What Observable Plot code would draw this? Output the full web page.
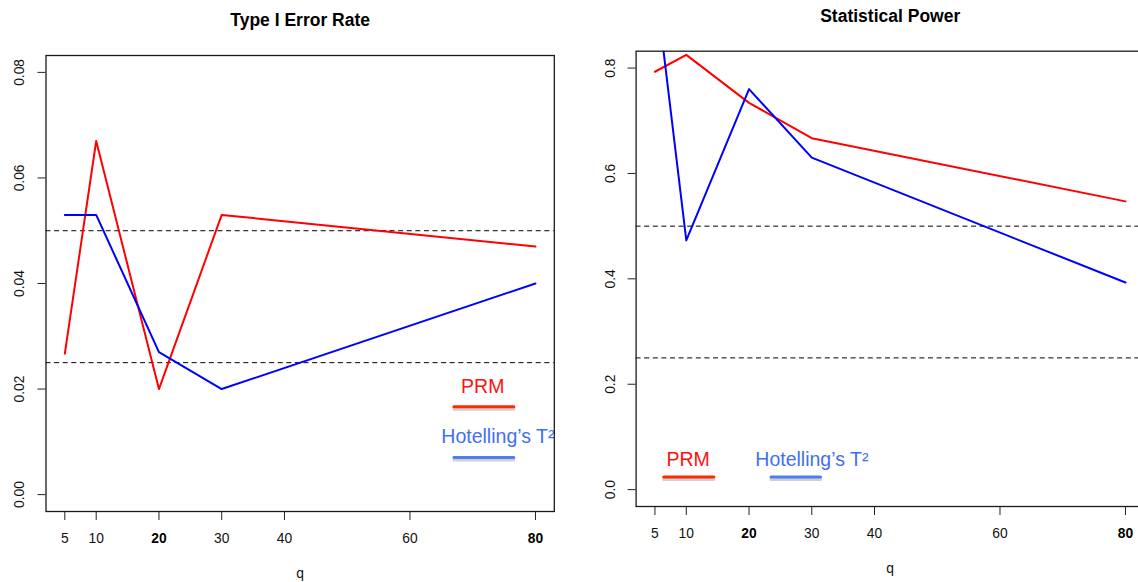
<!DOCTYPE html>
<html><head><meta charset="utf-8">
<script src="https://cdn.jsdelivr.net/npm/d3@7"></script>
<script src="https://cdn.jsdelivr.net/npm/@observablehq/plot@0.6"></script>
<style>
html,body{margin:0;padding:0;background:#fff;overflow:hidden;}
#wrap{position:relative;width:1138px;height:582px;overflow:hidden;background:#fff;}
#left,#right{position:absolute;top:0;height:582px;}
#left{left:0px;width:569px}
#right{left:570px;width:580px}
#wrap svg{max-width:none !important;}
</style></head>
<body><div id="wrap"><div id="left"></div><div id="right"></div></div>
<script>
// ---- data ----
const q = [5, 10, 20, 30, 80];
const typeI_PRM = [0.0267, 0.067, 0.020, 0.053, 0.047];
const typeI_T2  = [0.053, 0.053, 0.027, 0.020, 0.040];
const power_PRM = [0.793, 0.825, 0.734, 0.667, 0.547];
const power_T2  = [0.968, 0.473, 0.760, 0.630, 0.393];
const xTicksNormal = [5, 10, 30, 40, 60];
const xTicksBold = [20, 80];
const typeI_yTicks = [0, 0.02, 0.04, 0.06, 0.08];
const power_yTicks = [0, 0.2, 0.4, 0.6, 0.8];
const typeI_refs = [0.05, 0.025];
const power_refs = [0.5, 0.25];
const seriesNames = ["PRM", "Hotelling’s T²"];

// legend annotation placement (data units)
const typeI_legend = {textX: [71.6, 65.0], textY: [0.0205, 0.0110], lineX: [67.0, 76.55], lineY: [0.01666, 0.00703]};
const power_legend = {textX: [10.3, 21.0], textY: [0.0575, 0.0575], lineX: [[6.4, 14.4], [23.5, 31.4]], lineY: [0.0241, 0.0241]};

const FONT = "'Liberation Sans', Arial, Helvetica, sans-serif";
const FS = 13.8;
const RED = "#ff0000", BLUE = "#0000ff";
const LEG_RED_TEXT = "#ff1010", LEG_RED_LINE = "#ff2a00", LEG_BLUE_TEXT = "#3f6ff5", LEG_BLUE_LINE = "#4a7ff0";

function rows(ys) { return q.map((x, i) => ({q: x, v: ys[i]})); }

function panel(o) {
  const legTexts = [
    {x: o.leg.textX[0], y: o.leg.textY[0], t: seriesNames[0]},
    {x: o.leg.textX[1], y: o.leg.textY[1], t: seriesNames[1]}
  ];
  const legLines = o.legLines;
  return Plot.plot({
    width: o.width, height: 582,
    marginLeft: o.mL, marginRight: o.mR, marginTop: o.mT, marginBottom: o.mB,
    x: {domain: [2, 83], axis: null},
    y: {domain: o.yDomain, axis: null},
    style: {fontFamily: FONT, fontSize: FS + "px", color: "#000", background: "#fff", overflow: "visible", maxWidth: "none"},
    marks: [
      Plot.ruleY(o.refs, {stroke: "#000", strokeWidth: 1, strokeDasharray: "5,3.6"}),
      Plot.line(rows(o.prm), {x: "q", y: "v", stroke: RED, strokeWidth: 2, clip: true}),
      Plot.line(rows(o.t2), {x: "q", y: "v", stroke: BLUE, strokeWidth: 2, clip: true}),
      // legend annotations
      Plot.line(legLines, {x: "x", y: "y", z: "s", stroke: "#777", strokeOpacity: 0.35, strokeWidth: 3, dy: 2.5}),
      Plot.line(legLines.filter(d => d.s === 0), {x: "x", y: "y", stroke: LEG_RED_LINE, strokeWidth: 3}),
      Plot.line(legLines.filter(d => d.s === 1), {x: "x", y: "y", stroke: LEG_BLUE_LINE, strokeWidth: 3}),
      Plot.text(legTexts.slice(0, 1), {x: "x", y: "y", text: "t", fill: LEG_RED_TEXT, textAnchor: "middle", fontSize: 19.5, lineAnchor: "middle"}),
      Plot.text(legTexts.slice(1), {x: "x", y: "y", text: "t", fill: LEG_BLUE_TEXT, textAnchor: "start", fontSize: 19.5, lineAnchor: "middle"}),
      Plot.frame({stroke: "#1a1a1a", strokeWidth: 1.3}),
      // axes
      Plot.axisY(o.yTicks, {tickSize: 8, tickFormat: () => "", label: null, stroke: "#222"}),
      Plot.text(o.yTicks, {y: d => d, frameAnchor: "left", dx: -26, rotate: -90, text: o.yFmt, textAnchor: "middle", lineAnchor: "middle", fill: "#111", fontSize: FS}),
      Plot.axisX(xTicksNormal.concat(xTicksBold), {tickSize: 9, tickFormat: () => "", label: null, stroke: "#222"}),
      Plot.text(xTicksNormal, {x: d => d, frameAnchor: "bottom", dy: 27, text: d => String(d), lineAnchor: "middle", fill: "#111", fontSize: FS}),
      Plot.text(xTicksBold, {x: d => d, frameAnchor: "bottom", dy: 27, text: d => String(d), lineAnchor: "middle", fontWeight: "bold", fill: "#000", fontSize: FS}),
      Plot.text(["q"], {frameAnchor: "bottom", dy: 62, text: d => d, lineAnchor: "middle", fill: "#111", fontSize: FS}),
      Plot.text([o.title], {frameAnchor: "top", dy: -35, text: d => d, fontWeight: "bold", fontSize: 17.5, lineAnchor: "middle", fill: "#000"})
    ]
  });
}

const leftLegLines = [
  {x: typeI_legend.lineX[0], y: typeI_legend.lineY[0], s: 0}, {x: typeI_legend.lineX[1], y: typeI_legend.lineY[0], s: 0},
  {x: typeI_legend.lineX[0], y: typeI_legend.lineY[1], s: 1}, {x: typeI_legend.lineX[1], y: typeI_legend.lineY[1], s: 1}
];
const rightLegLines = [
  {x: power_legend.lineX[0][0], y: power_legend.lineY[0], s: 0}, {x: power_legend.lineX[0][1], y: power_legend.lineY[0], s: 0},
  {x: power_legend.lineX[1][0], y: power_legend.lineY[1], s: 1}, {x: power_legend.lineX[1][1], y: power_legend.lineY[1], s: 1}
];

document.getElementById("left").append(panel({
  title: "Type I Error Rate", prm: typeI_PRM, t2: typeI_T2,
  yDomain: [-0.0032, 0.0832], yTicks: typeI_yTicks, yFmt: d => d.toFixed(2), refs: typeI_refs,
  leg: typeI_legend, legLines: leftLegLines,
  width: 569, mL: 45.5, mR: 15.2, mT: 55, mB: 71
}));
document.getElementById("right").append(panel({
  title: "Statistical Power", prm: power_PRM, t2: power_T2,
  yDomain: [-0.032, 0.832], yTicks: power_yTicks, yFmt: d => d.toFixed(1), refs: power_refs,
  leg: power_legend, legLines: rightLegLines,
  width: 580, mL: 65.6, mR: 6.2, mT: 50.7, mB: 76
}));
</script>
</body></html>
